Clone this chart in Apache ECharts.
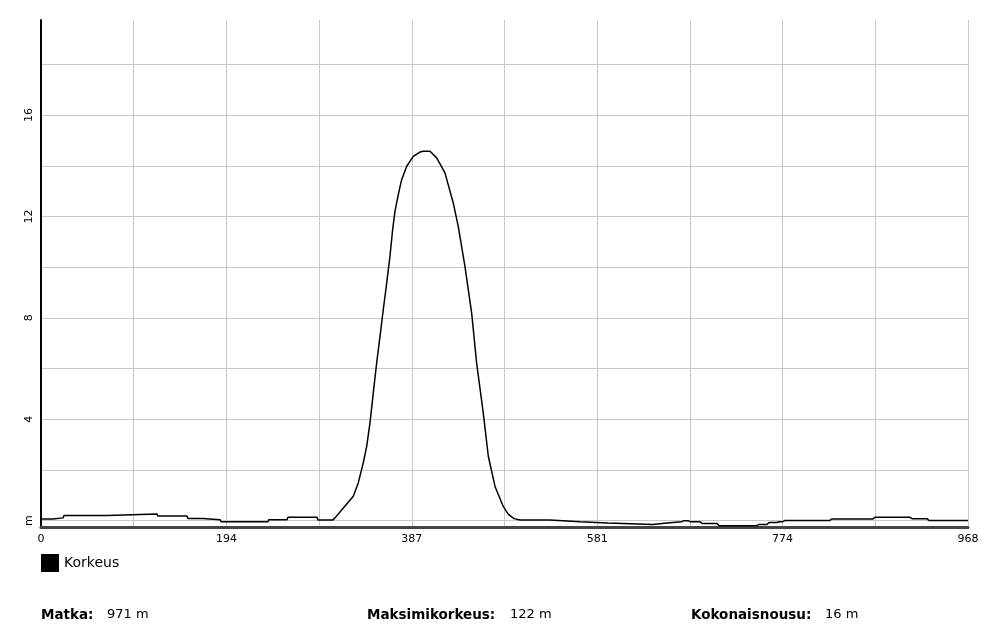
<!DOCTYPE html>
<html>
<head>
<meta charset="utf-8">
<title>Korkeusprofiili</title>
<script src="https://cdn.jsdelivr.net/npm/echarts@6/dist/echarts.min.js"></script>
<style>
html, body { margin: 0; padding: 0; background: #fff; }
#main { width: 1000px; height: 635px; }
</style>
</head>
<body>
<div id="main"></div>
<script>
// distance along the route (m)
const distance = [
  0, 12.5, 13.6, 23, 24, 68.9, 70, 121.1, 122.2, 152.4,
  153.5, 169.2, 170.2, 186.9, 188, 237, 238, 256.9, 257.9, 288.2,
  289.2, 304.9, 307, 315.7, 326.1, 331.3, 336.5, 340.1, 343.5, 347,
  350.5, 354, 357.4, 361, 364.4, 367.2, 369.6, 373.1, 376.6, 381.9,
  388.8, 395.7, 399, 406.2, 413.2,
  421.8, 430.5, 435.7, 442.7, 449.7, 454.9, 461.8, 467.1, 474.1, 482.7,
  488, 494, 500.2, 531.5, 532.5, 562.8, 563.9, 592, 593.1, 639,
  641, 653.6, 654.7, 669.3, 671.4, 675.6, 677.7, 688.1, 690.2, 705.9,
  708, 747.6, 749.7, 758.1, 760.2, 768.5, 770.6, 774.8, 776.9, 823.8,
  825.9, 868.7, 870.8, 907.4, 909.5, 925.1, 927.2, 968
];
// height relative to the lowest reference (m)
const height = [
  0.07, 0.07, 0.11, 0.11, 0.2, 0.2, 0.26, 0.26, 0.18, 0.18,
  0.09, 0.09, 0.04, 0.04, -0.04, -0.04, 0.04, 0.04, 0.13, 0.13,
  0.03, 0.03, 0.11, 0.5, 0.96, 1.49, 2.28, 2.93, 3.85, 5.04,
  6.22, 7.27, 8.32, 9.38, 10.43, 11.48, 12.2, 12.86, 13.45, 13.98,
  14.37, 14.54, 14.57, 14.57, 14.31,
  13.72, 12.53, 11.61, 10.03, 8.19, 6.22, 4.25, 2.54, 1.35, 0.56,
  0.25, 0.08, 0.03, 0.03, -0.04, -0.04, -0.09, -0.09, -0.15, -0.15,
  -0.09, -0.09, -0.04, -0.04, 0, 0, -0.04, -0.04, -0.11, -0.11,
  -0.2, -0.2, -0.15, -0.15, -0.07, -0.07, -0.04, -0.04, 0.01, 0.01,
  0.07, 0.07, 0.13, 0.13, 0.08, 0.08, 0.01, 0.01
];

const xGrid = [0, 96.8, 193.6, 290.4, 387.2, 484, 580.8, 677.6, 774.4, 871.2, 968];
const xTickLabels = [0, 193.6, 387.2, 580.8, 774.4, 968];
const yGrid = [0, 2, 4, 6, 8, 10, 12, 14, 16, 18];
const yTickLabels = [0, 4, 8, 12, 16];

const statLabels = ['Matka:', 'Maksimikorkeus:', 'Kokonaisnousu:'];
const statValues = ['971 m', '122 m', '16 m'];

const font = 'DejaVu Sans, Verdana, sans-serif';

// where the summary texts sit
const labelX = [41, 367, 691];
const valueX = [107, 510, 825];

const statGraphics = [];
statLabels.forEach(function (t, i) {
  statGraphics.push({
    type: 'text', left: labelX[i], top: 608,
    style: { text: t, font: 'bold 13.5px ' + font, fill: '#000' }
  });
  statGraphics.push({
    type: 'text', left: valueX[i], top: 608,
    style: { text: statValues[i], font: '13px ' + font, fill: '#000' }
  });
});

const chart = echarts.init(document.getElementById('main'));

chart.setOption({
  animation: false,
  backgroundColor: '#fff',
  grid: { left: 41, right: 32, top: 20, bottom: 108 },
  legend: {
    left: 41, top: 554, padding: 0,
    icon: 'rect', itemWidth: 18, itemHeight: 18,
    textStyle: { fontFamily: font, fontSize: 14, color: '#000' },
    data: ['Korkeus']
  },
  xAxis: {
    type: 'value',
    min: 0, max: 968,
    axisLine: { onZero: false, lineStyle: { color: '#444', width: 3 } },
    axisTick: { show: false, customValues: xGrid },
    splitLine: { show: true, lineStyle: { color: '#c8c8c8', width: 1 } },
    axisLabel: {
      customValues: xTickLabels,
      formatter: function (v) { return Math.round(v); },
      margin: 7,
      fontFamily: font, fontSize: 11, color: '#000'
    }
  },
  yAxis: {
    type: 'value',
    min: -0.25, max: 19.75,
    axisLine: { show: true, lineStyle: { color: '#000', width: 2 } },
    axisTick: { show: false, customValues: yGrid },
    splitLine: { show: true, lineStyle: { color: '#c8c8c8', width: 1 } },
    axisLabel: {
      customValues: yTickLabels,
      rotate: 90,
      margin: 6,
      formatter: function (v) { return v === 0 ? 'm' : v; },
      fontFamily: font, fontSize: 11, color: '#000'
    }
  },
  series: [
    {
      name: 'Korkeus',
      type: 'line',
      color: '#000',
      showSymbol: false,
      lineStyle: { color: '#000', width: 1.5 },
      data: distance.map(function (d, i) { return [d, height[i]]; })
    }
  ],
  graphic: statGraphics
});
</script>
</body>
</html>
